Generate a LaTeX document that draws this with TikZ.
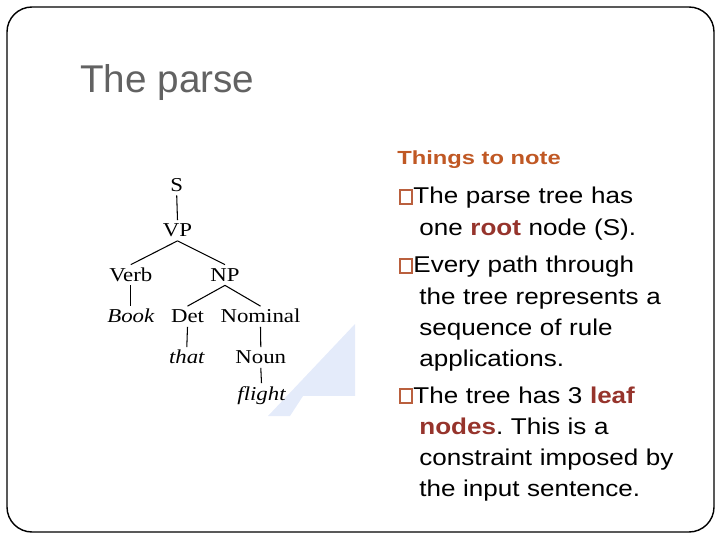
\documentclass[tikz,border=0pt]{standalone}
\usepackage{fontspec}
\usepackage{xcolor}
\setmainfont{Liberation Sans}
\newfontfamily\slidefont{Liberation Sans}
\newfontfamily\bodyfont[FakeStretch=1.14]{Liberation Sans}
\newfontfamily\notefont[FakeStretch=1.25]{Liberation Sans}
\newfontfamily\treefont[FakeStretch=1.16]{Liberation Serif}
\definecolor{titlegray}{RGB}{98,98,98}
\definecolor{noteorange}{RGB}{192,88,36}
\definecolor{boxorange}{RGB}{186,96,62}
\definecolor{keyred}{RGB}{150,52,44}
\definecolor{markblue}{RGB}{228,235,250}
\newcommand\keyword[1]{{\bfseries\color{keyred}#1}}
\frenchspacing

\begin{document}
\begin{tikzpicture}[x=0.02cm, y=-0.02cm,
    cat/.style={anchor=base, inner xsep=0pt, inner ysep=2pt, text height=7.4pt, text depth=0pt,
      font=\treefont\fontsize{11.2}{12}\selectfont},
    word/.style={cat, font=\treefont\itshape\fontsize{11.2}{12}\selectfont},
    branch/.style={line width=0.6pt},
    item/.style={anchor=base west, inner sep=0pt, text width=6cm, align=left,
      font=\bodyfont\fontsize{13}{17.65}\selectfont},
    bulletbox/.style={draw=boxorange, line width=0.8pt}]
  \useasboundingbox (0,0) rectangle (720,540);
  \draw[line width=0.8pt, rounded corners=0.5cm] (7,7) rectangle (714,532);
  % faint mark behind the tree
  \fill[markblue] (268,416) -- (355,324) -- (355,396) -- (303,396) -- (290,416) -- cycle;
  \node[anchor=base west, inner sep=0pt, text=titlegray, font=\slidefont\fontsize{22}{26}\selectfont]
    (title) at (80,93) {The parse};
  % tree
  \node[cat]  (S)       at (176.7,191.5) {S};
  \node[cat]  (VP)      at (177.5,237)   {VP};
  \node[cat]  (Verb)    at (130.8,281.5) {Verb};
  \node[cat]  (NP)      at (225,281.5)   {NP};
  \node[word] (Book)    at (130.8,323)   {Book};
  \node[cat]  (Det)     at (187.5,323)   {Det};
  \node[cat]  (Nominal) at (260.5,323)   {Nominal};
  \node[word] (that)    at (186.8,364)   {that};
  \node[cat]  (Noun)    at (260.8,364)   {Noun};
  \node[word] (flight)  at (261.5,400)   {flight};
  \draw[branch] (S.south) -- (VP.north);
  \draw[branch] (VP.south) -- (Verb.north);
  \draw[branch] (VP.south) -- (NP.north);
  \draw[branch] (Verb.south) -- (Book.north);
  \draw[branch] (NP.south) -- (Det.north);
  \draw[branch] (NP.south) -- (Nominal.north);
  \draw[branch] (Det.south) -- (that.north);
  \draw[branch] (Nominal.south) -- (Noun.north);
  \draw[branch] (Noun.south) -- (flight.north);
  % notes
  \node[anchor=base west, inner sep=0pt, text=noteorange, font=\notefont\bfseries\fontsize{10.8}{13}\selectfont]
    (note) at (397,165) {Things to note};
  \draw[bulletbox] (400,190) rectangle (412,204);
  \draw[bulletbox] (400,259) rectangle (412,273);
  \draw[bulletbox] (400,389) rectangle (412,403);
  \node[item] (first) at (419,204)
    {\hspace*{-3.4pt}The parse tree has\\one \keyword{root} node (S).};
  \node[item] (second) at (419,273)
    {\hspace*{-3.4pt}Every path through\\the tree represents a\\sequence of rule\\applications.};
  \node[item] (third) at (419,403)
    {\hspace*{-3.4pt}The tree has 3 \keyword{leaf}\\\keyword{nodes}. This is a\\constraint imposed by\\the input sentence.};
\end{tikzpicture}
\end{document}
